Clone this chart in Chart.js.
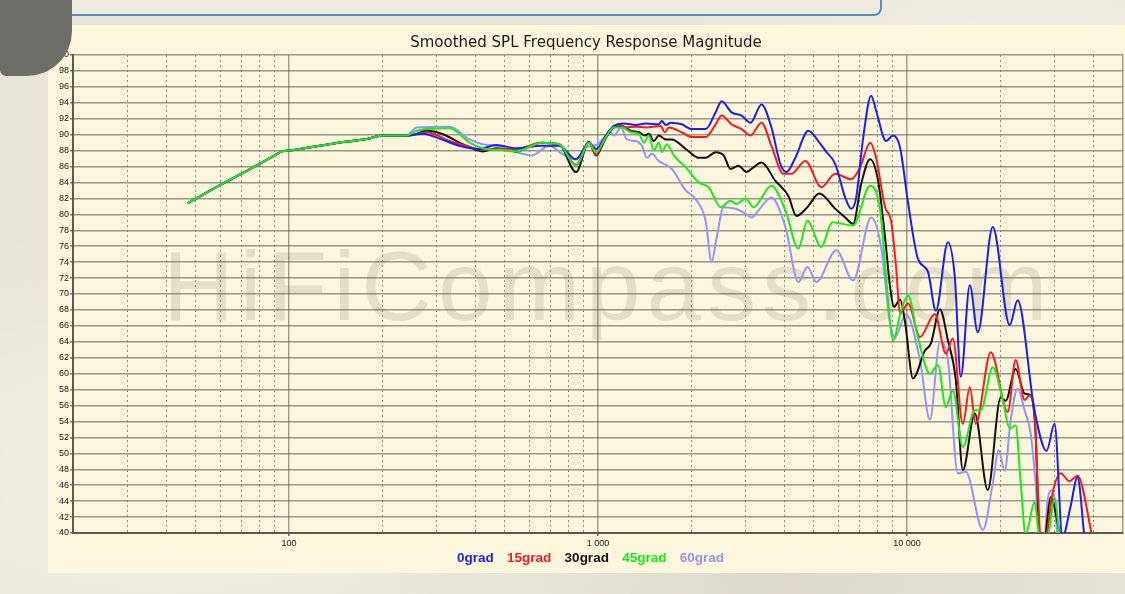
<!DOCTYPE html>
<html>
<head>
<meta charset="utf-8">
<script src="https://cdn.jsdelivr.net/npm/chart.js@4/dist/chart.umd.min.js"></script>
<style>
    html, body { margin: 0; padding: 0; overflow: hidden; }
    body {
        width: 1125px; height: 594px; position: relative;
        background:
            radial-gradient(ellipse at 15% 80%, rgba(255,255,255,0.35), transparent 45%),
            radial-gradient(ellipse at 70% 95%, rgba(200,195,180,0.35), transparent 40%),
            radial-gradient(ellipse at 90% 10%, rgba(255,255,255,0.3), transparent 35%),
            #e9e5d6;
    }
    #topBox {
        position: absolute; left: -12px; top: -20px; width: 890px; height: 32px;
        border: 2px solid #5b8bbd; border-radius: 8px; background: #efebe0;
    }
    #panel {
        position: absolute; left: 48px; top: 25px; width: 1077px; height: 548px;
        background: #fcf6dc;
    }
    #watermark {
        position: absolute; left: 163px; top: 237px; white-space: nowrap;
        font-family: "Liberation Sans", Arial, sans-serif; font-size: 98px;
        line-height: 98px; letter-spacing: 6px; color: rgba(130, 120, 100, 0.19);
    }
    #wrap { position: absolute; left: 0; top: 0; width: 1125px; height: 594px; }
    #corner {
        position: absolute; left: 0; top: 0; width: 72px; height: 76px;
        background: #6f6d68; border-bottom-right-radius: 45px; border-bottom-left-radius: 6px;
    }
</style>
</head>
<body>
<div id="topBox"></div>
<div id="panel"></div>
<div id="watermark">HiFiCompass.com</div>
<div id="wrap"><canvas id="splChart"></canvas></div>
<div id="corner"></div>
<script>
// frequency grid lines and labels
const freqTicks = [20, 30, 40, 50, 60, 70, 80, 90,
    100, 200, 300, 400, 500, 600, 700, 800, 900,
    1000, 2000, 3000, 4000, 5000, 6000, 7000, 8000, 9000,
    10000, 20000, 30000, 40000, 50000];
const decadeTicks = [100, 1000, 10000];
const decadeLabels = ["100", "1 000", "10 000"];

const seriesNames = ["0grad", "15grad", "30grad", "45grad", "60grad"];
const seriesColors = ["#1c1cff", "#ff1a1a", "#111111", "#14ee14", "#9494ff"];

// shared bass part (all angles identical below 240 Hz)
const freqBass = [47, 60, 75, 90, 95, 100, 140, 180, 201, 240];
const splBass = [81.4, 83.7, 85.7, 87.4, 87.9, 88.0, 88.9, 89.5, 89.9, 89.9];

// 0 degrees
const freq0 = [271, 307, 356, 413, 469, 544, 655, 749, 849, 935, 985, 1061, 1126, 1213, 1327, 1428,
    1573, 1609, 1658, 1720, 1866, 2010, 2230, 2402, 2512, 2706, 2914, 3115, 3381, 3641, 3893, 4071, 4352, 4794, 5163, 5438,
    5858, 6310, 6598, 6847, 7213, 7654, 7943, 8556, 9013, 9494, 10075, 10852, 11687, 12401, 13561, 14280, 14932, 15964, 16943, 18943,
    21498, 22803, 25878, 28288, 30018, 31858, 33811, 35612, 37514];
const spl0 = [90.1, 89.5, 88.6, 88.2, 88.7, 88.3, 88.6, 88.6, 86.9, 89.0, 88.2, 89.9, 91.1, 91.4, 91.2, 91.4,
    91.3, 91.7, 91.2, 91.5, 91.3, 90.7, 90.7, 92.8, 94.2, 92.8, 92.4, 91.5, 93.8, 90.9, 86.3, 85.3, 87.1, 90.5, 89.2, 88.0,
    86.3, 82.1, 80.7, 82.1, 89.6, 94.9, 93.0, 89.2, 89.9, 88.4, 81.5, 74.4, 72.8, 67.9, 76.5, 72.1, 59.6, 71.1, 65.2, 78.4,
    66.1, 69.2, 55.3, 50.3, 53.7, 39.5, 43.3, 47.0, 39.5];

// 15 degrees
const freq15 = [279, 331, 375, 423, 479, 544, 655, 749, 849, 935, 985, 1061, 1169, 1227, 1327, 1428,
    1596, 1645, 1694, 1866, 2010, 2230, 2402, 2512, 2706, 2914, 3115, 3381, 3641, 3981, 4225, 4688, 5280, 5858, 6598, 7053,
    7597, 7943, 8492, 8880, 9216, 9494, 9707, 10075, 11014, 12310, 13360, 14068, 15156, 15964, 16695, 18664, 21180, 22467, 24023, 24932,
    25878, 26462, 27055, 28080, 29580, 31390, 33565, 35612, 39811];
const spl15 = [90.3, 89.2, 88.6, 88.1, 88.2, 88.2, 89.0, 88.8, 86.2, 89.0, 87.5, 89.9, 91.3, 90.9, 91.0, 90.9,
    91.1, 90.3, 90.9, 90.3, 89.7, 89.7, 91.3, 92.4, 91.3, 90.7, 89.9, 91.5, 88.6, 85.1, 85.1, 86.7, 83.4, 85.1, 84.4, 85.9,
    89.0, 87.1, 80.9, 79.2, 73.4, 67.5, 68.0, 68.8, 64.6, 67.5, 62.5, 64.4, 53.7, 58.3, 53.7, 62.7, 55.2, 61.7, 56.7, 57.3,
    55.0, 46.3, 39.5, 39.5, 45.0, 47.5, 46.5, 47.2, 39.5];

// 30 degrees
const freq30 = [246, 279, 307, 375, 423, 469, 544, 655, 749, 849, 935, 985, 1061, 1126, 1195, 1278,
    1357, 1418, 1460, 1516, 1573, 1658, 1733, 1923, 2118, 2230, 2402, 2550, 2685, 2850, 3024, 3185, 3381, 3751, 4132, 4385,
    4759, 5201, 5858, 6310, 6695, 7106, 7597, 8063, 8492, 8814, 9080, 9494, 9852, 10456, 11431, 11950, 12778, 13561, 14386, 15156,
    16571, 18251, 20102, 20862, 22467, 24023, 25119, 26070, 26854, 27872, 29143, 31390];
const spl30 = [89.9, 90.5, 90.2, 88.6, 87.9, 88.3, 87.9, 89.0, 88.8, 85.3, 89.1, 87.4, 89.6, 90.9, 91.1, 90.5,
    90.3, 89.9, 90.1, 89.2, 89.9, 89.4, 89.4, 88.2, 87.1, 87.1, 87.8, 87.4, 85.7, 86.1, 85.3, 85.9, 86.5, 84.2, 82.3, 79.8,
    80.9, 82.6, 80.7, 79.6, 78.8, 83.8, 86.9, 84.2, 77.1, 70.9, 68.4, 69.3, 66.5, 59.4, 62.9, 63.8, 68.1, 64.2, 59.2, 47.9,
    55.0, 45.4, 57.0, 56.6, 60.6, 57.5, 57.3, 52.5, 39.5, 39.5, 44.5, 39.5];

// 45 degrees
const freq45 = [259, 331, 384, 435, 479, 544, 660, 749, 849, 935, 985, 1061, 1126, 1195, 1278, 1357,
    1407, 1460, 1516, 1573, 1609, 1670, 1759, 1923, 2118, 2281, 2494, 2685, 2809, 3002, 3185, 3641, 4041, 4451, 4759, 5280,
    5730, 6695, 7597, 8184, 8556, 9013, 9564, 10075, 10852, 11862, 12589, 13360, 14068, 15156, 16571, 17326, 18943, 20400, 21498, 22467,
    23317, 24200, 25878, 26854, 28500, 30018, 31154];
const spl45 = [90.5, 90.8, 89.0, 88.2, 88.1, 87.9, 89.0, 88.8, 86.1, 89.0, 87.8, 89.7, 90.9, 90.9, 90.3, 90.1,
    89.0, 89.9, 88.0, 89.0, 87.8, 88.8, 87.4, 85.9, 84.0, 83.4, 80.9, 81.7, 81.3, 82.0, 80.9, 83.6, 80.5, 75.7, 79.2, 75.9,
    79.0, 78.6, 83.6, 80.5, 72.1, 64.2, 67.9, 69.8, 64.5, 60.0, 61.1, 55.8, 57.9, 50.8, 55.4, 55.4, 60.8, 56.7, 53.1, 53.5,
    46.5, 39.8, 43.9, 39.5, 39.5, 44.4, 39.5];

// 60 degrees
const freq60 = [259, 331, 384, 423, 469, 544, 612, 695, 765, 849, 915, 985, 1061, 1085, 1126, 1187,
    1240, 1327, 1387, 1439, 1494, 1573, 1733, 1923, 2071, 2230, 2332, 2421, 2550, 2788, 3002, 3139, 3306, 3641, 4041, 4451,
    4759, 5089, 5902, 6695, 7654, 8245, 8814, 9148, 9926, 11014, 11862, 12778, 13561, 14603, 15497, 17600, 18943, 19800, 20708, 21660,
    22803, 24023, 25119, 26070, 26854, 27872, 28500, 29580, 30694];
const spl60 = [90.9, 91.0, 89.4, 88.8, 88.6, 87.8, 87.4, 88.6, 87.6, 86.9, 88.4, 88.7, 89.9, 90.5, 89.9, 90.9,
    89.4, 89.2, 88.6, 87.1, 87.6, 86.7, 85.7, 83.0, 81.9, 79.2, 74.0, 77.1, 80.9, 80.7, 80.1, 79.6, 80.5, 82.1, 78.4, 71.5,
    73.4, 71.5, 75.5, 71.7, 79.6, 75.9, 66.3, 64.6, 67.5, 61.7, 54.2, 64.0, 61.7, 47.5, 47.7, 40.4, 46.2, 50.4, 47.8, 54.2,
    58.1, 55.4, 52.5, 46.3, 39.5, 39.5, 44.1, 45.4, 39.5];

const freqs = [freq0, freq15, freq30, freq45, freq60];
const levels = [spl0, spl15, spl30, spl45, spl60];
const drawOrder = [1, 2, 3, 0, 4];

document.addEventListener("DOMContentLoaded", function () {

    const canvas = document.getElementById("splChart");
    const sans = "'Liberation Sans', Arial, sans-serif";

    const isSolid = function (v) {
        return decadeTicks.indexOf(v) >= 0 || v === 50000;
    };

    const setTicks = function (scale) {
        scale.ticks = freqTicks.map(v => ({ value: v }));
    };

    const datasets = seriesNames.map((name, i) => {
        const f = freqBass.concat(freqs[i]);
        const v = splBass.concat(levels[i]);
        return {
            label: name,
            data: f.map((x, k) => ({ x: x, y: v[k] })),
            borderColor: seriesColors[i],
            backgroundColor: seriesColors[i],
            borderWidth: 2,
            pointRadius: 0,
            cubicInterpolationMode: "monotone",
            order: drawOrder[i],
            xAxisID: "x",
            yAxisID: "y"
        };
    });

    new Chart(canvas, {
        type: "line",
        data: { datasets: datasets },
        options: {
            responsive: true,
            maintainAspectRatio: false,
            animation: false,
            events: [],
            layout: { padding: { left: 48, right: 1, top: 25, bottom: 19.25 } },
            scales: {
                x: {
                    type: "logarithmic",
                    min: 20,
                    max: 50000,
                    afterBuildTicks: setTicks,
                    afterFit: function (s) { s.height = 14; },
                    ticks: {
                        autoSkip: false,
                        maxRotation: 0,
                        padding: 2,
                        color: "#222",
                        font: { family: sans, size: 9 },
                        callback: function (v) {
                            const i = decadeTicks.indexOf(v);
                            return i >= 0 ? decadeLabels[i] : "";
                        }
                    },
                    grid: {
                        color: c => isSolid(c.tick.value) ? "rgba(115,110,100,0.65)" : "transparent",
                        lineWidth: 1.5,
                        tickLength: 3,
                        tickColor: c => decadeTicks.indexOf(c.tick.value) >= 0 ? "#666" : "transparent"
                    },
                    border: { color: "#5a5852", width: 2 }
                },
                xMinor: {
                    type: "logarithmic",
                    position: "bottom",
                    min: 20,
                    max: 50000,
                    afterBuildTicks: setTicks,
                    afterFit: function (s) { s.height = 0; },
                    ticks: { display: false },
                    grid: {
                        color: c => isSolid(c.tick.value) ? "transparent" : "rgba(110,105,95,0.75)",
                        lineWidth: 1,
                        drawTicks: false
                    },
                    border: { display: false, dash: [2, 3] }
                },
                y: {
                    min: 40,
                    max: 100,
                    afterFit: function (s) { s.width = 25; },
                    ticks: {
                        stepSize: 2,
                        autoSkip: false,
                        padding: 1,
                        color: "#222",
                        font: { family: sans, size: 9 }
                    },
                    grid: {
                        color: "rgba(95,91,83,0.62)",
                        lineWidth: 1.5,
                        tickLength: 3,
                        tickColor: "#777"
                    },
                    border: { color: "#5a5852", width: 2 }
                }
            },
            plugins: {
                title: {
                    display: true,
                    text: "Smoothed SPL Frequency Response Magnitude",
                    color: "#1a1a1a",
                    font: { family: "'DejaVu Sans', sans-serif", size: 15, weight: "normal" },
                    padding: { top: 9, bottom: 3 }
                },
                legend: {
                    position: "bottom",
                    labels: {
                        boxWidth: 2.25,
                        padding: 4.25,
                        font: { family: sans, size: 13.5, weight: "bold" },
                        generateLabels: function (chart) {
                            return chart.data.datasets.map((ds, i) => ({
                                text: ds.label,
                                fontColor: ds.borderColor,
                                fillStyle: "transparent",
                                strokeStyle: "transparent",
                                lineWidth: 0,
                                hidden: false,
                                datasetIndex: i
                            }));
                        }
                    }
                },
                tooltip: { enabled: false }
            }
        }
    });
});
</script>
</body>
</html>
